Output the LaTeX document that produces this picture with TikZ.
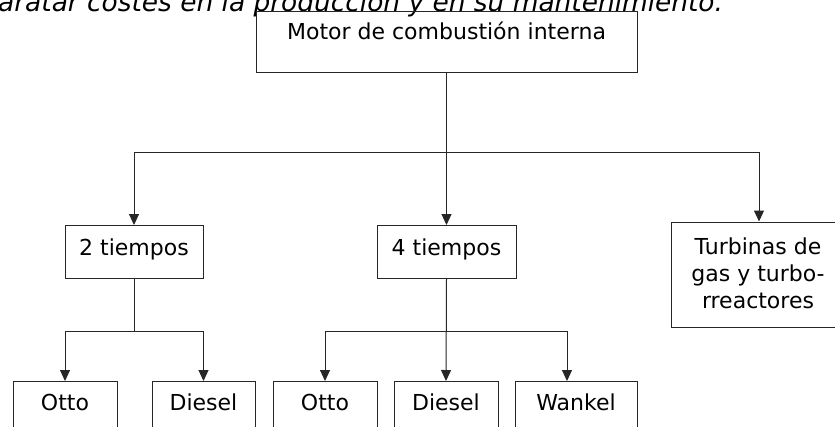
\documentclass[tikz,border=0pt]{standalone}
\usepackage{fontspec}
\setmainfont{DejaVu Sans}
\usepackage{tikz}
\usetikzlibrary{arrows.meta}
\newcommand{\LineColor}{black!85}

\begin{document}
\begin{tikzpicture}[x=1pt,y=-1pt,line cap=butt,line join=miter,
  >={Triangle[width=10pt,length=11pt]},
  caja/.style={draw=\LineColor,line width=1pt,rectangle,inner xsep=0pt,inner ysep=0pt,
    font=\fontsize{22}{27}\selectfont,align=center},
  conector/.style={draw=\LineColor,line width=1pt}]
  \useasboundingbox (0,0) rectangle (835,426);
  \clip (0,0) rectangle (835,426);
  \node[anchor=base west,inner sep=0pt,font=\fontsize{26.4}{30}\itshape] (frase) at (-2,11)
    {aratar costes en la producción y en su mantenimiento.};
  \node[caja,minimum width=381pt,text height=28pt,text depth=33pt] (motor) at (446.5,42) {Motor de combustión interna};
  \node[caja,minimum width=138pt,text height=30pt,text depth=23pt] (dos) at (134,252) {2 tiempos};
  \node[caja,minimum width=139pt,text height=30pt,text depth=23pt] (cuatro) at (446.5,252) {4 tiempos};
  \node[caja,minimum width=174pt,minimum height=105pt] (turbinas) at (758,274.5) {Turbinas de\\gas y turbo-\\rreactores\vspace{3pt}};
  \node[caja,minimum width=104pt,text height=29pt,text depth=24pt] (otto1) at (65,408) {Otto};
  \node[caja,minimum width=103pt,text height=29pt,text depth=24pt] (diesel1) at (203.5,408) {Diesel};
  \node[caja,minimum width=104pt,text height=29pt,text depth=24pt] (otto2) at (325,408) {Otto};
  \node[caja,minimum width=104pt,text height=29pt,text depth=24pt] (diesel2) at (446,408) {Diesel};
  \node[caja,minimum width=122pt,text height=29pt,text depth=24pt] (wankel) at (576,408) {Wankel};
  \coordinate (ramal) at (446.5,152);
  \draw[conector] (motor.south) -- (ramal);
  \draw[conector,->] (ramal) -| (dos.north);
  \draw[conector,->] (ramal) -- (cuatro.north);
  \draw[conector,->] (ramal) -| ([xshift=1pt]turbinas.north);
  \draw[conector,->] (dos.south) -- ++(0,52) -| (otto1.north);
  \draw[conector,->] (dos.south) -- ++(0,52) -| (diesel1.north);
  \draw[conector,->] (cuatro.south) -- (diesel2.north);
  \draw[conector,->] (cuatro.south) -- ++(0,52) -| (otto2.north);
  \draw[conector,->] (cuatro.south) -- ++(0,52) -| ([xshift=-9pt]wankel.north);
\end{tikzpicture}
\end{document}
